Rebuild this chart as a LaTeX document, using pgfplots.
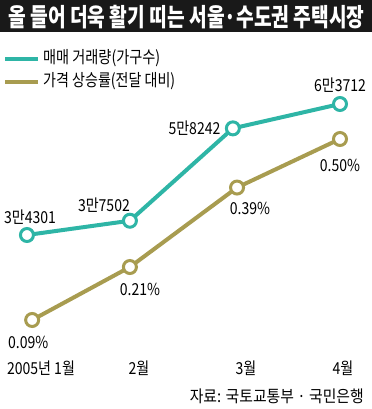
\documentclass[border=0pt]{standalone}
\usepackage{pgfplots}
\pgfplotsset{compat=1.18}
\usepackage{fontspec}
\setmainfont{Noto Sans CJK KR}
\newfontfamily\condfont[FakeStretch=0.85]{Noto Sans CJK KR}
\definecolor{teal1}{HTML}{2EB5A6}
\definecolor{olive1}{HTML}{A89C50}
\begin{document}
\begin{tikzpicture}[x=1bp,y=1bp]
\useasboundingbox (0,0) rectangle (372,409);
% title bar
\fill[black!90] (0,409) rectangle (372,409-32);
\node[anchor=center,text=white,inner sep=0pt] at (186.5,409-17) {\resizebox{356bp}{\height}{\fontsize{25bp}{25bp}\selectfont\bfseries 올 들어 더욱 활기 띠는 서울·수도권 주택시장}};
% legend
\draw[teal1,line width=4bp] (5,409-59) -- (38,409-59);
\node[anchor=west,inner sep=0pt] at (43,409-58.5) {\resizebox{117bp}{\height}{\fontsize{17bp}{17bp}\selectfont 매매 거래량(가구수)}};
\draw[olive1,line width=4bp] (5,409-82) -- (38,409-82);
\node[anchor=west,inner sep=0pt] at (43,409-81.5) {\resizebox{132bp}{\height}{\fontsize{17bp}{17bp}\selectfont 가격 상승률(전달 대비)}};
% x labels
\begin{scope}[font=\condfont\fontsize{16.5bp}{16.5bp}\selectfont]
\node at (41,409-368) {2005년 1월};
\node at (139,409-368) {2월};
\node at (246,409-368) {3월};
\node at (343,409-368) {4월};
\node[anchor=east,inner sep=0pt] at (364,409-396) {\resizebox{174bp}{\height}{\fontsize{16.5bp}{16.5bp}\selectfont 자료: 국토교통부 · 국민은행}};
\end{scope}
% teal axis
\begin{axis}[at={(0,0)},anchor=south west,scale only axis,width=372bp,height=409bp,
  hide axis,clip=false,xmin=-0.2692,xmax=3.3077,ymin=-4765,ymax=87063]
\addplot[teal1,line width=4bp,mark=*,mark size=6.5bp,mark options={fill=white,draw=teal1,line width=3bp}]
  coordinates {(-0.01,34301) (0.98,37502) (1.97,58242) (3.0,63712)};
\begin{scope}[font=\condfont\fontsize{16.5bp}{16.5bp}\selectfont]
\node at (axis cs:0.02,34301) [yshift=18bp] {3만4301};
\node at (axis cs:0.98,37502) [xshift=-26bp,yshift=16bp] {3만7502};
\node at (axis cs:1.97,58242) [anchor=east,xshift=-9bp] {5만8242};
\node at (axis cs:3.0,63712) [yshift=19bp] {6만3712};
\end{scope}
\end{axis}
% olive axis
\begin{axis}[at={(0,0)},anchor=south west,scale only axis,width=372bp,height=409bp,
  hide axis,clip=false,xmin=-0.2692,xmax=3.3077,ymin=-0.1116,ymax=0.8148]
\addplot[olive1,line width=4bp,mark=*,mark size=6.5bp,mark options={fill=white,draw=olive1,line width=3bp}]
  coordinates {(0.04,0.09) (0.98,0.21) (2.01,0.39) (3.0,0.50)};
\begin{scope}[font=\condfont\fontsize{16.5bp}{16.5bp}\selectfont]
\node at (axis cs:0.04,0.09) [yshift=-22bp,xshift=-4bp] {0.09\%};
\node at (axis cs:0.98,0.21) [yshift=-22bp,xshift=10bp] {0.21\%};
\node at (axis cs:2.01,0.39) [yshift=-21bp,xshift=13bp] {0.39\%};
\node at (axis cs:3.0,0.50) [yshift=-26bp] {0.50\%};
\end{scope}
\end{axis}
\end{tikzpicture}
\end{document}
